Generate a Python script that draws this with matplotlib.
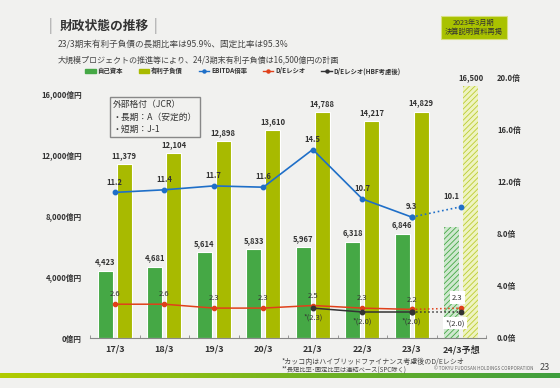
import numpy as np
import matplotlib
matplotlib.use("Agg")
import matplotlib.pyplot as plt
from matplotlib.patches import Patch, Rectangle
from matplotlib.lines import Line2D

plt.rcParams['font.family'] = ['Noto Sans CJK JP', 'DejaVu Sans']
plt.rcParams['hatch.linewidth'] = 0.6

# data
years = ['17/3', '18/3', '19/3', '20/3', '21/3', '22/3', '23/3', '24/3予想']
equity = [4423, 4681, 5614, 5833, 5967, 6318, 6846, 7300]
debt = [11379, 12104, 12898, 13610, 14788, 14217, 14829, 16500]
ebitda = [11.2, 11.4, 11.7, 11.6, 14.5, 10.7, 9.3, 10.1]
de = [2.6, 2.6, 2.3, 2.3, 2.5, 2.3, 2.2, 2.3]
de_hbf = [np.nan, np.nan, np.nan, np.nan, 2.3, 2.0, 2.0, 2.0]
left_ticks = [0, 4000, 8000, 12000, 16000]
right_ticks = [0, 4, 8, 12, 16, 20]

bg = '#f1f1ef'
c_eq = '#45a845'
c_debt = '#a8ba00'
c_blue = '#1f6fc8'
c_red = '#e0401a'
c_black = '#333333'
c_txt = '#333333'

W, H = 560, 388
fig = plt.figure(figsize=(5.6, 3.88), dpi=100, facecolor=bg)
ax = fig.add_axes([90 / W, 1 - 338 / H, 396 / W, 260 / H])
ax.set_facecolor(bg)
ax2 = ax.twinx()

x = np.arange(len(years))
n = len(years) - 1
bw = 0.3
off = 0.19

# bars, actuals
ax.bar(x[:n] - off, equity[:n], bw, color=c_eq, edgecolor='white', linewidth=0.8, zorder=2)
ax.bar(x[:n] + off, debt[:n], bw, color=c_debt, edgecolor='white', linewidth=0.8, zorder=2)
# forecast (hatched)
ax.bar(x[n] - off, equity[n], bw, color='#cfe8cf', edgecolor=c_eq, hatch='//////', linewidth=0, zorder=2)
ax.bar(x[n] + off, debt[n], bw, color='#eef3c2', edgecolor='#bccc30', hatch='//////', linewidth=0, zorder=2)

for i in range(len(years)):
    if i < n:
        ax.text(x[i] - off, equity[i] + 280, f'{equity[i]:,}', ha='center', va='bottom',
                fontsize=5.5, color=c_txt, fontweight='bold')
    ax.text(x[i] + off, debt[i] + 280, f'{debt[i]:,}', ha='center', va='bottom',
            fontsize=5.5, color=c_txt, fontweight='bold')

ax.set_xlim(-0.5, len(years) - 0.5)
ax.set_ylim(0, 16000 * 260 / 244)
ax.set_yticks(left_ticks)
ax.set_yticklabels([f'{v:,}億円' for v in left_ticks])
ax.set_xticks(x)
ax.set_xticklabels(years)
ax.set_xticks(np.arange(-0.5, len(years)), minor=True)
ax.tick_params(axis='y', length=0, labelsize=5.5, colors=c_txt, pad=6)
ax.tick_params(axis='x', which='major', length=0, labelsize=6.5, colors=c_txt, pad=5)
ax.tick_params(axis='x', which='minor', length=2.5, direction='in', color='#888888')
for lab in ax.get_xticklabels() + ax.get_yticklabels():
    lab.set_fontweight('bold')
for s in ['top', 'left', 'right']:
    ax.spines[s].set_visible(False)
    ax2.spines[s].set_visible(False)
ax.spines['bottom'].set_color('#888888')
ax2.spines['bottom'].set_visible(False)

# lines on right axis
ax2.set_ylim(0, 20)
ax2.set_yticks(right_ticks)
ax2.set_yticklabels([f'{v:.1f}倍' for v in right_ticks])
ax2.tick_params(axis='y', length=0, labelsize=5.5, colors=c_txt, pad=8)
for lab in ax2.get_yticklabels():
    lab.set_fontweight('bold')

ax2.plot(x[:n], ebitda[:n], color=c_blue, lw=1.2, marker='o', ms=3.2, zorder=4)
ax2.plot(x[n - 1:], ebitda[n - 1:], color=c_blue, lw=1.2, ls=':', marker='o', ms=3.2, zorder=4)
ax2.plot(x[:n], de[:n], color=c_red, lw=1.1, marker='o', ms=3, zorder=4)
ax2.plot(x[n - 1:], de[n - 1:], color=c_red, lw=1.1, ls=':', marker='o', ms=3, zorder=4)
ax2.plot(x[:n], de_hbf[:n], color=c_black, lw=1.1, marker='o', ms=3.2, zorder=5)
ax2.plot(x[n - 1:], de_hbf[n - 1:], color=c_black, lw=1.1, ls=':', marker='o', ms=3.2, zorder=5)

for i in range(len(years)):
    dx = -0.2 if i == n else 0
    ax2.text(x[i] + dx, ebitda[i] + 0.45, f'{ebitda[i]:.1f}', ha='center', va='bottom',
             fontsize=5.5, color=c_txt, fontweight='bold')
    if i < n:
        ax2.text(x[i], de[i] + 0.45, f'{de[i]:.1f}', ha='center', va='bottom',
                 fontsize=5.5, color=c_txt)
    else:
        ax2.text(x[i] - 0.08, de[i] + 0.5, f'{de[i]:.1f}', ha='center', va='bottom',
                 fontsize=5.5, color=c_txt,
                 bbox=dict(boxstyle='square,pad=0.3', fc='white', ec='none'))
    if not np.isnan(de_hbf[i]):
        if i < n:
            ax2.text(x[i], de_hbf[i] - 0.45, f'*({de_hbf[i]:.1f})', ha='center', va='top',
                     fontsize=5.5, color=c_txt)
        else:
            ax2.text(x[i] - 0.12, de_hbf[i] - 0.55, f'*({de_hbf[i]:.1f})', ha='center', va='top',
                     fontsize=5.5, color=c_txt,
                     bbox=dict(boxstyle='square,pad=0.3', fc='white', ec='none'))

# legend
handles = [Patch(color=c_eq), Patch(color=c_debt),
           Line2D([], [], color=c_blue, marker='o', ms=2.2, lw=1),
           Line2D([], [], color=c_red, marker='o', ms=2.2, lw=1),
           Line2D([], [], color=c_black, marker='o', ms=2.2, lw=1)]
labels = ['自己資本', '有利子負債', 'EBITDA倍率', 'D/Eレシオ', 'D/Eレシオ(HBF考慮後)']
leg = fig.legend(handles, labels, loc='center', bbox_to_anchor=(243 / W, 1 - 71 / H), ncol=5,
                 frameon=False, fontsize=4.6, handlelength=1.6, handleheight=0.5,
                 columnspacing=2.5, handletextpad=0.3)
for t in leg.get_texts():
    t.set_fontweight('bold')
    t.set_color(c_txt)

# rating box
ax.text(0.057, 0.915, '外部格付（JCR）\n・長期：A（安定的）\n・短期：J-1', transform=ax.transAxes,
        ha='left', va='top', fontsize=6.3, color=c_txt, linespacing=1.5,
        bbox=dict(boxstyle='square,pad=0.35', fc=bg, ec='#888888', lw=1))

# header
fig.text(50 / W, 1 - 26 / H, '|', fontsize=10, color='#999999', ha='center', va='center')
fig.text(60 / W, 1 - 26 / H, '財政状態の推移', fontsize=9.2, fontweight='bold', color=c_txt,
         ha='left', va='center')
fig.text(155 / W, 1 - 26 / H, '|', fontsize=10, color='#999999', ha='center', va='center')
fig.text(58 / W, 1 - 44 / H, '23/3期末有利子負債の長期比率は95.9%、固定比率は95.3%',
         fontsize=6.2, color='#444444', ha='left', va='center')
fig.text(58 / W, 1 - 60 / H, '大規模プロジェクトの推進等により、24/3期末有利子負債は16,500億円の計画',
         fontsize=5.8, color='#444444', ha='left', va='center')

fig.patches.append(Rectangle((441 / W, 1 - 39 / H), 66 / W, 23 / H, transform=fig.transFigure,
                             fc='#a9c200', ec='#d8e080', lw=0.8))
fig.text(474 / W, 1 - 27.5 / H, '2023年3月期\n決算説明資料再掲', fontsize=5.2, color='#333333',
         ha='center', va='center', linespacing=1.3)

# footnotes
fig.text(282 / W, 1 - 361.5 / H, '*カッコ内はハイブリッドファイナンス考慮後のD/Eレシオ',
         fontsize=5, color='#444444', ha='left', va='center')
fig.text(282 / W, 1 - 370 / H, '**長短比率･固定比率は連結ベース(SPC除く)',
         fontsize=4.5, color='#444444', ha='left', va='center')
fig.text(533 / W, 1 - 369 / H, '© TOKYU FUDOSAN HOLDINGS CORPORATION', fontsize=3.3,
         color='#666666', ha='right', va='center')
fig.text(545 / W, 1 - 368 / H, '23', fontsize=6.5, color='#444444', ha='center', va='center')

# bottom gradient band
gax = fig.add_axes([0, 1 - 378 / H, 1, 5 / H])
grad = np.linspace(0, 1, 256).reshape(1, -1)
cmap = matplotlib.colors.LinearSegmentedColormap.from_list('g', ['#b2cc00', '#3e9e3e'])
gax.imshow(grad, aspect='auto', cmap=cmap)
gax.axis('off')

fig.savefig('out.png', dpi=100, facecolor=bg)
